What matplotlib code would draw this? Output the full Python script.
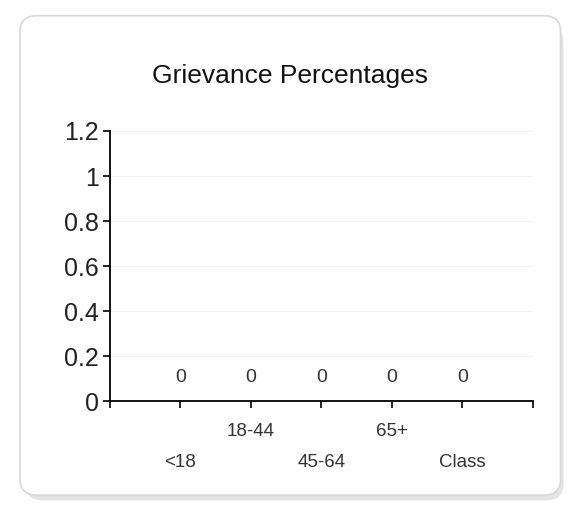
import matplotlib
matplotlib.use("Agg")
import matplotlib.pyplot as plt
from matplotlib.patches import FancyBboxPatch

plt.rcParams['font.family'] = ['Liberation Sans', 'DejaVu Sans']

# data
categories = ['<18', '18-44', '45-64', '65+', 'Class']
values = [0, 0, 0, 0, 0]
yticks = [0, 0.2, 0.4, 0.6, 0.8, 1, 1.2]
ytick_labels = ['0', '0.2', '0.4', '0.6', '0.8', '1', '1.2']

fig = plt.figure(figsize=(5.72, 5.24), dpi=100)
fig.patch.set_facecolor('white')

# rounded chart frame with a soft shadow
shadow = FancyBboxPatch((0.045, 0.045), 0.94, 0.905, boxstyle="round,pad=0,rounding_size=0.03",
                        transform=fig.transFigure, facecolor='#e4e4e4', edgecolor='none', zorder=-3)
frame = FancyBboxPatch((0.035, 0.055), 0.945, 0.915, boxstyle="round,pad=0,rounding_size=0.03",
                       transform=fig.transFigure, facecolor='white', edgecolor='#d8d8d8', lw=1.2, zorder=-2)
fig.patches.extend([shadow, frame])

ax = fig.add_axes([0.1923, 0.2347, 0.7395, 0.5153])
ax.set_zorder(2)
ax.set_facecolor('none')
x = list(range(1, len(categories) + 1))
ax.plot(x, values, color='none')
for xi, v in zip(x, values):
    ax.annotate(str(v), (xi, v), xytext=(0, 17), textcoords='offset points',
                ha='center', va='center', fontsize=14, color='#333333')

ax.set_xlim(0, len(categories) + 1)
ax.set_ylim(0, 1.2)
ax.set_yticks(yticks)
ax.set_yticklabels(ytick_labels, fontsize=18, color='#222222')
for yv in yticks[1:]:
    ax.axhline(yv, color='#f2f2f2', lw=0.8, zorder=0)

ax.set_xticks(list(range(0, len(categories) + 2)))
ax.set_xticklabels([])
ax.tick_params(axis='x', direction='out', length=5, width=1.2)
ax.tick_params(axis='y', direction='out', length=5, width=1.2, pad=3)
for i, (xi, lab) in enumerate(zip(x, categories)):
    off = -22 if i % 2 else -44
    ax.annotate(lab, (xi, 0), xytext=(0, off), textcoords='offset points',
                ha='center', va='center', fontsize=13.5, color='#333333')

for s in ['top', 'right']:
    ax.spines[s].set_visible(False)
ax.spines['left'].set_linewidth(1.3)
ax.spines['bottom'].set_linewidth(1.3)

fig.text(0.507, 0.855, 'Grievance Percentages', ha='center', va='center', fontsize=19, color='#111111')

fig.savefig('out.png', dpi=100)
